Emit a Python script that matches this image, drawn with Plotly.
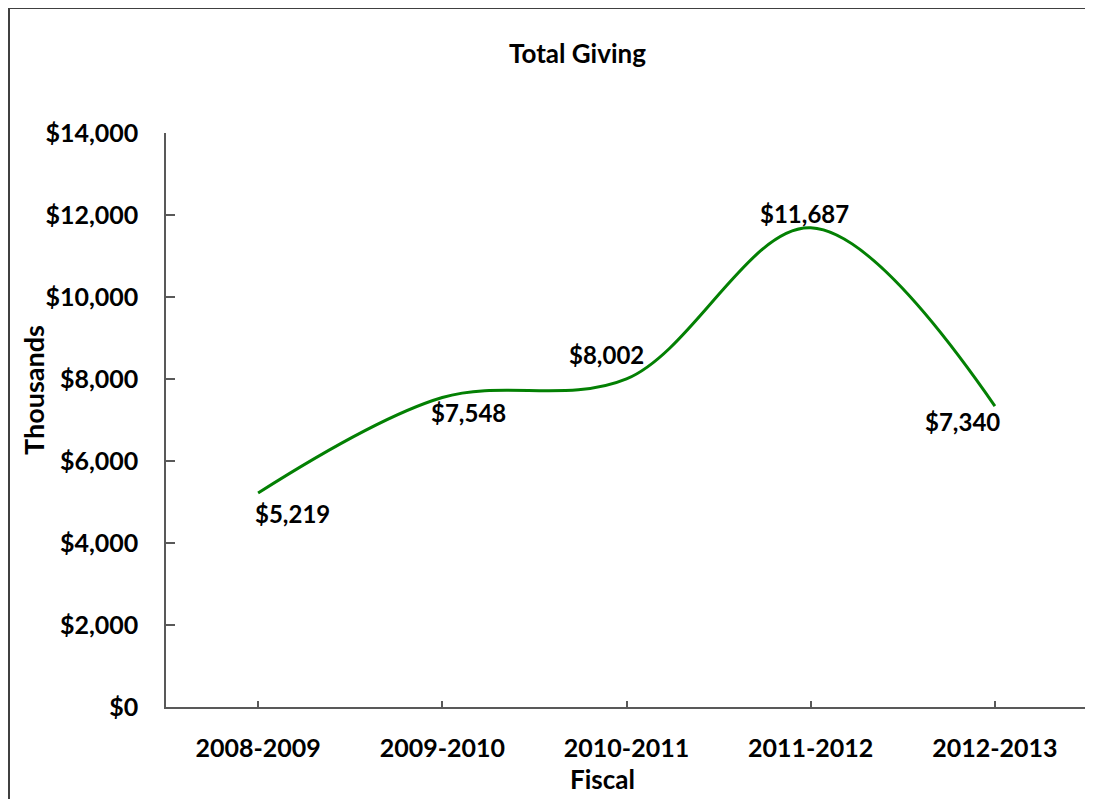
import plotly.graph_objects as go

categories = ["2008-2009", "2009-2010", "2010-2011", "2011-2012", "2012-2013"]
total_giving = [5219, 7548, 8002, 11687, 7340]
y_ticks = [0, 2000, 4000, 6000, 8000, 10000, 12000, 14000]
y_tick_labels = ["$0", "$2,000", "$4,000", "$6,000", "$8,000", "$10,000", "$12,000", "$14,000"]

# page has an 8px body margin; work in page pixels and convert
OFF = 8
W, H = 1093 - OFF, 799 - OFF
PL, PR, PT, PB = 166, 1087, 133, 707  # plot area in page pixels
L, T = PL - OFF, PT - OFF
R, B = W - (PR - OFF), H - (PB - OFF)
PW, PH = PR - PL, PB - PT

def px(xp):
    return (xp - PL) / PW

def py(yp):
    return (PB - yp) / PH

FONT = "Lato"
label_offsets = [(34, 20), (26, 15), (-20, -24), (-6, -14), (-32, 15)]

fig = go.Figure()
fig.add_trace(go.Scatter(
    x=list(range(len(categories))), y=total_giving, mode="lines",
    line=dict(color="#038003", width=3, shape="spline", smoothing=1.0),
    hoverinfo="skip", showlegend=False,
))

annotations = []
for i, v in enumerate(total_giving):
    dx, dy = label_offsets[i]
    annotations.append(dict(
        x=i, y=v, xref="x", yref="y", text="${:,}".format(v), showarrow=False,
        xanchor="center", yanchor="middle", xshift=dx, yshift=-dy,
        font=dict(family=FONT, size=24, color="black", weight="bold"),
    ))
annotations.append(dict(x=px(577), y=py(53), xref="paper", yref="paper", text="Total Giving",
                        showarrow=False, xanchor="center", yanchor="middle",
                        font=dict(family=FONT, size=26, color="black", weight="bold")))
annotations.append(dict(x=px(33), y=py(390), xref="paper", yref="paper", text="Thousands",
                        showarrow=False, xanchor="center", yanchor="middle", textangle=-90,
                        font=dict(family=FONT, size=27, color="black", weight="bold")))
annotations.append(dict(x=px(602), y=py(797), xref="paper", yref="paper", text="Fiscal",
                        showarrow=False, xanchor="center", yanchor="bottom",
                        font=dict(family=FONT, size=26, color="black", weight="bold")))

border = dict(color="#404040", width=2)
fig.update_layout(
    width=W, height=H,
    margin=dict(l=L, r=R, t=T, b=B, autoexpand=False),
    paper_bgcolor="white", plot_bgcolor="white",
    annotations=annotations,
    shapes=[
        dict(type="line", xref="paper", yref="paper", x0=px(9), x1=px(9),
             y0=py(8), y1=py(830), line=border, layer="below"),
        dict(type="line", xref="paper", yref="paper", x0=px(9), x1=px(1110),
             y0=py(8), y1=py(8), line=border, layer="below"),
    ],
    xaxis=dict(
        range=[-0.5, 4.5], tickmode="array", tickvals=list(range(len(categories))),
        ticktext=categories, showgrid=False, zeroline=False,
        showline=True, linecolor="#595959", linewidth=1.5,
        ticks="inside", ticklen=6, tickcolor="#595959", tickwidth=1.5,
        ticklabelstandoff=18,
        tickfont=dict(family=FONT, size=25, color="black", weight="bold"),
        fixedrange=True,
    ),
    yaxis=dict(
        range=[0, 14000], tickmode="array", tickvals=y_ticks, ticktext=y_tick_labels,
        showgrid=False, zeroline=False,
        showline=True, linecolor="#595959", linewidth=1.5,
        ticks="inside", ticklen=9, tickcolor="#595959", tickwidth=1.5,
        ticklabelstandoff=21,
        tickfont=dict(family=FONT, size=25, color="black", weight="bold"),
        fixedrange=True,
    ),
)
fig.write_html("out.html")
